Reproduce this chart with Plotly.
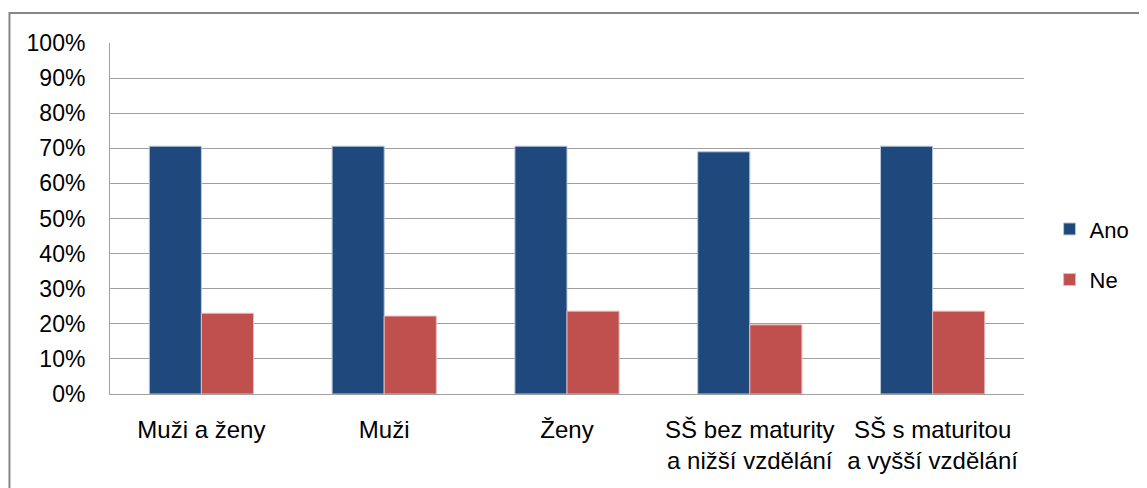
import plotly.graph_objects as go

CATEGORIES = ["Muži a ženy", "Muži", "Ženy",
              "SŠ bez maturity<br>a nižší vzdělání",
              "SŠ s maturitou<br>a vyšší vzdělání"]
ANO = [0.706, 0.706, 0.706, 0.690, 0.706]
NE = [0.230, 0.222, 0.236, 0.197, 0.236]
Y_TICKS = [i / 10 for i in range(11)]

FONT = "Liberation Sans Narrow, Arial Narrow, sans-serif"

fig = go.Figure()
fig.add_trace(go.Bar(name="Ano", x=CATEGORIES, y=ANO, marker_color="#1F497D",
                     marker_line=dict(color="#B9C7DA", width=1), legendgroup="a"))
fig.add_trace(go.Bar(name="Ne", x=CATEGORIES, y=NE, marker_color="#C0504D",
                     marker_line=dict(color="#E5B9B8", width=1), legendgroup="b"))

# page body has an 8px margin, so the figure is 8px smaller and offsets shift
fig.update_layout(
    width=1139, height=480,
    margin=dict(l=102, r=119, t=35, b=94),
    plot_bgcolor="white", paper_bgcolor="white",
    barmode="group", bargap=0.43, bargroupgap=0,
    font=dict(family=FONT, size=23, color="#000000"),
    legend=dict(x=1.028, y=0.397, yanchor="middle", xanchor="left",
                tracegroupgap=19, font=dict(size=22),
                itemwidth=30, borderwidth=0, bgcolor="rgba(0,0,0,0)"),
    showlegend=True,
)
fig.update_yaxes(range=[0, 1], tickvals=Y_TICKS, tickformat=".0%",
                 showgrid=True, gridcolor="#A0A0A0", gridwidth=1,
                 showline=True, linecolor="#A0A0A0", linewidth=1,
                 ticks="", ticklabelstandoff=19, zeroline=False, automargin=False)
fig.update_xaxes(showline=True, linecolor="#A0A0A0", linewidth=1,
                 ticklabelstandoff=14, tickangle=0, automargin=False,
                 tickfont=dict(size=24))

# outer chart border (cut by the image edges on right and bottom)
fig.add_shape(type="rect", xref="paper", yref="paper",
              x0=-0.110, x1=1.3, y0=-0.4, y1=1.0855,
              line=dict(color="#868686", width=2), fillcolor="rgba(0,0,0,0)")

fig.write_html("out.html")
